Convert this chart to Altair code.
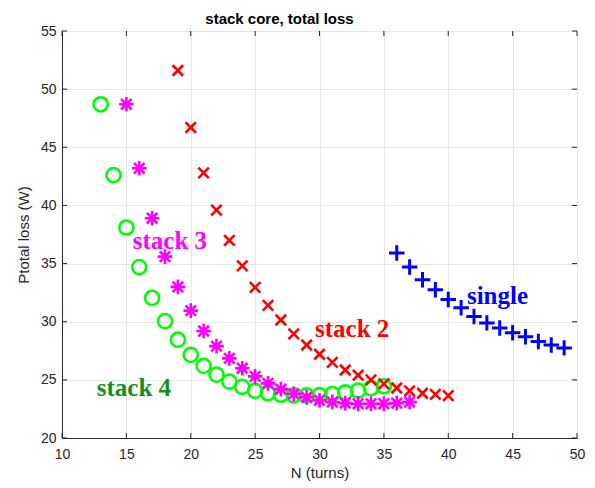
import altair as alt
import pandas as pd

# ---- data ----
n_stack4 = list(range(13, 36))
p_stack4 = [48.7, 42.6, 38.1, 34.7, 32.05, 30.05, 28.45, 27.15, 26.2, 25.45, 24.85,
            24.4, 24.05, 23.85, 23.72, 23.67, 23.66, 23.68, 23.78, 23.92, 24.08, 24.28, 24.45]

n_stack3 = list(range(15, 38))
p_stack3 = [48.7, 43.2, 38.9, 35.6, 33.0, 30.95, 29.2, 27.9, 26.85, 26.0, 25.3, 24.7,
            24.2, 23.8, 23.5, 23.25, 23.1, 23.0, 22.95, 22.95, 22.95, 23.0, 23.1]

n_stack2 = list(range(19, 41))
p_stack2 = [51.6, 46.7, 42.8, 39.6, 37.0, 34.8, 32.95, 31.4, 30.15, 28.95, 28.0, 27.2,
            26.5, 25.85, 25.4, 25.0, 24.65, 24.3, 24.05, 23.85, 23.75, 23.65]

n_single = list(range(36, 50))
p_single = [35.9, 34.7, 33.6, 32.75, 31.9, 31.2, 30.45, 29.9, 29.45, 29.05, 28.7, 28.3, 28.0, 27.75]

label_text = ["stack 3", "stack 4", "stack 2", "single"]
label_x = [15.5, 12.7, 29.65, 41.45]
label_y = [36.9, 24.3, 29.4, 32.2]
label_color = ["#ff00ff", "#13901a", "#ff0000", "#0000ff"]

x_ticks = [10, 15, 20, 25, 30, 35, 40, 45, 50]
y_ticks = [20, 25, 30, 35, 40, 45, 50, 55]

W, H = 515, 407
xs = alt.Scale(domain=[10, 50], nice=False, zero=False)
ys = alt.Scale(domain=[20, 55], nice=False, zero=False)

X_PLUS = "M-1,0L1,0M0,-1L0,1"
X_CROSS = "M-1,-1L1,1M-1,1L1,-1"
X_STAR = "M-1,0L1,0M0,-1L0,1M-0.72,-0.72L0.72,0.72M-0.72,0.72L0.72,-0.72"

def series(n, p, shape, color, size, sw):
    df = pd.DataFrame({"N": n, "P": p})
    return alt.Chart(df).mark_point(shape=shape, filled=False, color=color, size=size,
                                    strokeWidth=sw, opacity=1).encode(
        x=alt.X("N:Q", scale=xs),
        y=alt.Y("P:Q", scale=ys))

grid_axis_x = alt.Axis(values=x_ticks, title="N (turns)", grid=True, gridColor="#e6e6e6",
                       tickSize=0, labelPadding=9, labelFont="Liberation Sans", labelFontSize=14,
                       labelColor="#262626", titleFont="Liberation Sans", titleFontSize=15,
                       titleFontWeight="normal", titleColor="#262626", titlePadding=4,
                       domainColor="#262626", labelFlush=False)
grid_axis_y = alt.Axis(values=y_ticks, title="Ptotal loss (W)", grid=True, gridColor="#e6e6e6",
                       tickSize=0, labelPadding=6, labelFont="Liberation Sans", labelFontSize=14,
                       labelColor="#262626", titleFont="Liberation Sans", titleFontSize=15,
                       titleFontWeight="normal", titleColor="#262626", titlePadding=9,
                       domainColor="#262626", labelFlush=False)

base_df = pd.DataFrame({"N": [10, 50], "P": [20, 55]})
base = alt.Chart(base_df).mark_point(opacity=0).encode(
    x=alt.X("N:Q", scale=xs, axis=grid_axis_x),
    y=alt.Y("P:Q", scale=ys, axis=grid_axis_y))

xt = pd.DataFrame({"t": x_ticks})
yt = pd.DataFrame({"t": y_ticks})
tick_style = dict(color="#262626", strokeWidth=1)
xt_bot = alt.Chart(xt).mark_rule(**tick_style).encode(
    x=alt.X("t:Q", scale=xs), y=alt.value(H), y2=alt.value(H - 5))
xt_top = alt.Chart(xt).mark_rule(**tick_style).encode(
    x=alt.X("t:Q", scale=xs), y=alt.value(0), y2=alt.value(5))
yt_left = alt.Chart(yt).mark_rule(**tick_style).encode(
    y=alt.Y("t:Q", scale=ys), x=alt.value(0), x2=alt.value(5))
yt_right = alt.Chart(yt).mark_rule(**tick_style).encode(
    y=alt.Y("t:Q", scale=ys), x=alt.value(W), x2=alt.value(W - 5))

s4 = series(n_stack4, p_stack4, "circle", "#00ff00", 200, 2.6)
s3 = series(n_stack3, p_stack3, X_STAR, "#ff00ff", 215, 2.6)
s2 = series(n_stack2, p_stack2, X_CROSS, "#ff0000", 110, 2.6)
s1 = series(n_single, p_single, X_PLUS, "#0000ff", 240, 3)

lab_df = pd.DataFrame({"text": label_text, "x": label_x, "y": label_y, "c": label_color})
labels = alt.Chart(lab_df).mark_text(font="Liberation Serif", fontWeight="bold", fontSize=25,
                                     align="left", baseline="middle").encode(
    x=alt.X("x:Q", scale=xs), y=alt.Y("y:Q", scale=ys), text="text:N",
    color=alt.Color("c:N", scale=None))

chart = alt.layer(base, xt_bot, xt_top, yt_left, yt_right, s4, s3, s2, s1, labels).properties(
    width=W, height=H,
    title=alt.TitleParams("stack core, total loss", font="Liberation Sans", fontSize=15,
                          fontWeight="bold", color="#000000", anchor="middle", dx=-40, offset=-3),
    padding={"left": 62, "top": 31, "right": 18, "bottom": 50},
    autosize=alt.AutoSizeParams(type="none"),
).configure_view(stroke="#262626", strokeWidth=1).configure(background="white")

chart.save("out.html", embed_options={"renderer": "svg", "actions": False})
